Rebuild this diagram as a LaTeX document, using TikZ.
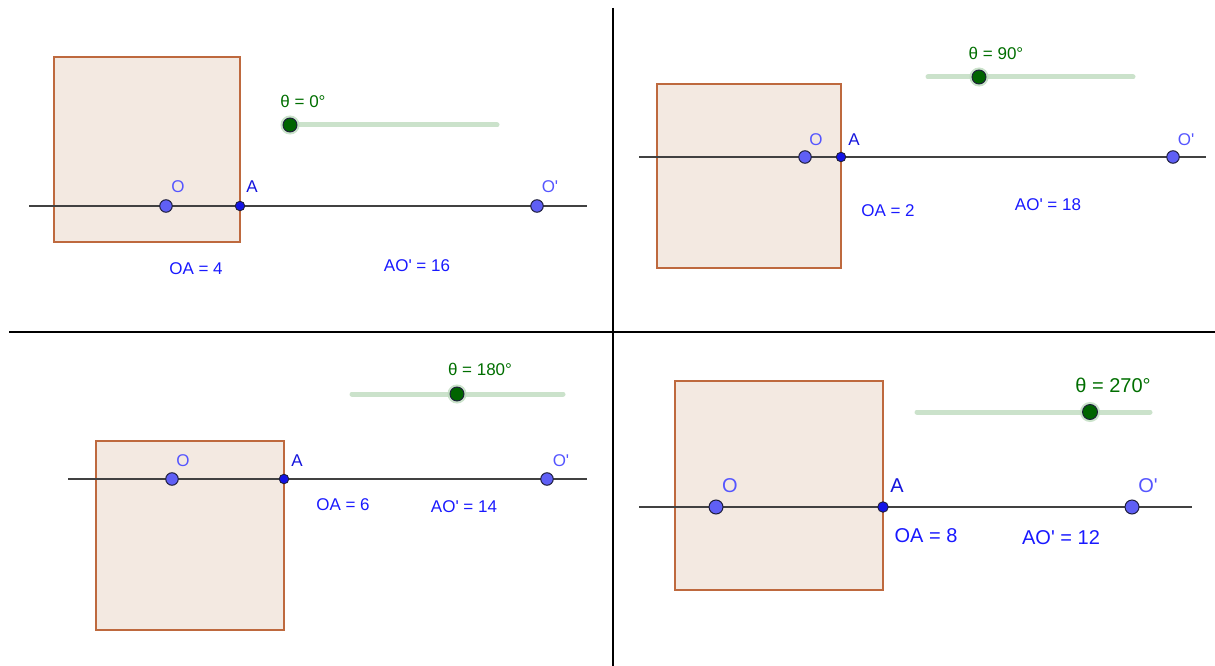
\documentclass[tikz,border=0pt]{standalone}
\usepackage{fontspec}
\setmainfont{Liberation Sans}
\newfontfamily\gfont{Liberation Sans}
\definecolor{sqfill}{RGB}{243,233,225}
\definecolor{sqedge}{RGB}{190,105,62}
\definecolor{lncol}{RGB}{65,65,65}
\definecolor{ofill}{RGB}{95,95,245}
\definecolor{afill}{RGB}{20,20,230}
\definecolor{ptline}{RGB}{30,30,60}
\definecolor{olab}{RGB}{85,85,255}
\definecolor{alab}{RGB}{20,20,220}
\definecolor{txtblue}{RGB}{25,25,255}
\definecolor{track}{RGB}{203,226,203}
\definecolor{knob}{RGB}{0,100,0}
\definecolor{halo}{RGB}{190,220,190}
\definecolor{thcol}{RGB}{0,110,0}
\tikzset{
  sq/.style={draw=sqedge,fill=sqfill,line width=2.6pt},
  axis/.style={draw=lncol,line width=2.3pt},
  opt/.style={circle,draw=ptline,fill=ofill,line width=1pt,inner sep=0pt,minimum size=12.5pt},
  apt/.style={circle,draw=ptline,fill=afill,line width=0.9pt,inner sep=0pt,minimum size=9.5pt},
  olbl/.style={text=olab,font=\gfont\fontsize{17}{17}\selectfont,inner sep=0pt},
  albl/.style={text=alab,font=\gfont\fontsize{17}{17}\selectfont,inner sep=0pt},
  meas/.style={text=txtblue,font=\gfont\fontsize{17}{17}\selectfont,inner sep=0pt},
  meas4/.style={text=txtblue,font=\gfont\fontsize{20}{20}\selectfont,inner sep=0pt},
  trk/.style={draw=track,line width=5pt,line cap=round},
  knb/.style={circle,draw=ptline,fill=knob,line width=0.9pt,inner sep=0pt,minimum size=14pt,
     preaction={draw=halo,line width=5pt,opacity=0.8}},
  th/.style={text=thcol,font=\gfont\fontsize{17}{17}\selectfont,inner sep=0pt},
  th4/.style={text=thcol,font=\gfont\fontsize{20}{20}\selectfont,inner sep=0pt},
  divider/.style={draw=black,line width=2.8pt}
}
\begin{document}
\begin{tikzpicture}[x=1pt,y=-1pt]
\useasboundingbox (0,0) rectangle (1215,666);
% dividers
\coordinate (hl) at (9,332); \coordinate (hr) at (1215,332);
\coordinate (vt) at (613,8); \coordinate (vb) at (613,666);
\draw[divider] (hl) -- (hr);
\draw[divider] (vt) -- (vb);
% ---------- panel 1 ----------
\draw[sq] (54,57) rectangle (240,242);
\coordinate (l1a) at (29,206); \coordinate (l1b) at (587,206);
\draw[axis] (l1a) -- (l1b);
\coordinate (t1a) at (290,125); \coordinate (t1b) at (497,125);
\draw[trk] (t1a) -- (t1b);
\node[knb] (k1) at (290,125) {};
\node[th] (th1) at (303,101) {θ = 0°};
\node[opt] (O1) at (166,206) {};
\node[apt] (A1) at (240,206) {};
\node[opt] (P1) at (537,206) {};
\node[olbl] (O1l) at (178,187) {O};
\node[albl] (A1l) at (252,187) {A};
\node[olbl] (P1l) at (550,187) {O'};
\node[meas] (m1a) at (196,269) {OA = 4};
\node[meas] (m1b) at (417,266) {AO' = 16};
% ---------- panel 2 ----------
\draw[sq] (657,84) rectangle (841,268);
\coordinate (l2a) at (639,157); \coordinate (l2b) at (1206,157);
\draw[axis] (l2a) -- (l2b);
\coordinate (t2a) at (928,77); \coordinate (t2b) at (1133,77);
\draw[trk] (t2a) -- (t2b);
\node[knb] (k2) at (979,77) {};
\node[th] (th2) at (996,53) {θ = 90°};
\node[opt] (O2) at (805,157) {};
\node[apt] (A2) at (841,157) {};
\node[opt] (P2) at (1173,157) {};
\node[olbl] (O2l) at (816,140) {O};
\node[albl] (A2l) at (854,140) {A};
\node[olbl] (P2l) at (1186,140) {O'};
\node[meas] (m2a) at (888,211) {OA = 2};
\node[meas] (m2b) at (1048,205) {AO' = 18};
% ---------- panel 3 ----------
\draw[sq] (96,441) rectangle (284,630);
\coordinate (l3a) at (68,479); \coordinate (l3b) at (587,479);
\draw[axis] (l3a) -- (l3b);
\coordinate (t3a) at (352,394); \coordinate (t3b) at (563,394);
\draw[trk] (t3a) -- (t3b);
\node[knb] (k3) at (457,394) {};
\node[th] (th3) at (480,369) {θ = 180°};
\node[opt] (O3) at (172,479) {};
\node[apt] (A3) at (284,479) {};
\node[opt] (P3) at (547,479) {};
\node[olbl] (O3l) at (183,461) {O};
\node[albl] (A3l) at (297,461) {A};
\node[olbl] (P3l) at (561,461) {O'};
\node[meas] (m3a) at (343,505) {OA = 6};
\node[meas] (m3b) at (464,507) {AO' = 14};
% ---------- panel 4 ----------
\draw[sq] (675,381) rectangle (883,590);
\coordinate (l4a) at (639,507); \coordinate (l4b) at (1192,507);
\draw[axis] (l4a) -- (l4b);
\coordinate (t4a) at (917,412); \coordinate (t4b) at (1150,412);
\draw[trk] (t4a) -- (t4b);
\node[knb,minimum size=15pt] (k4) at (1090,412) {};
\node[th4] (th4) at (1113,385) {θ = 270°};
\node[opt,minimum size=14pt] (O4) at (716,507) {};
\node[apt,minimum size=10.5pt] (A4) at (883,507) {};
\node[opt,minimum size=14pt] (P4) at (1132,507) {};
\node[olbl,font=\gfont\fontsize{20}{20}\selectfont] (O4l) at (730,486) {O};
\node[albl,font=\gfont\fontsize{20}{20}\selectfont] (A4l) at (897,486) {A};
\node[olbl,font=\gfont\fontsize{20}{20}\selectfont] (P4l) at (1148,486) {O'};
\node[meas4] (m4a) at (926,536) {OA = 8};
\node[meas4] (m4b) at (1061,538) {AO' = 12};
\end{tikzpicture}
\end{document}
